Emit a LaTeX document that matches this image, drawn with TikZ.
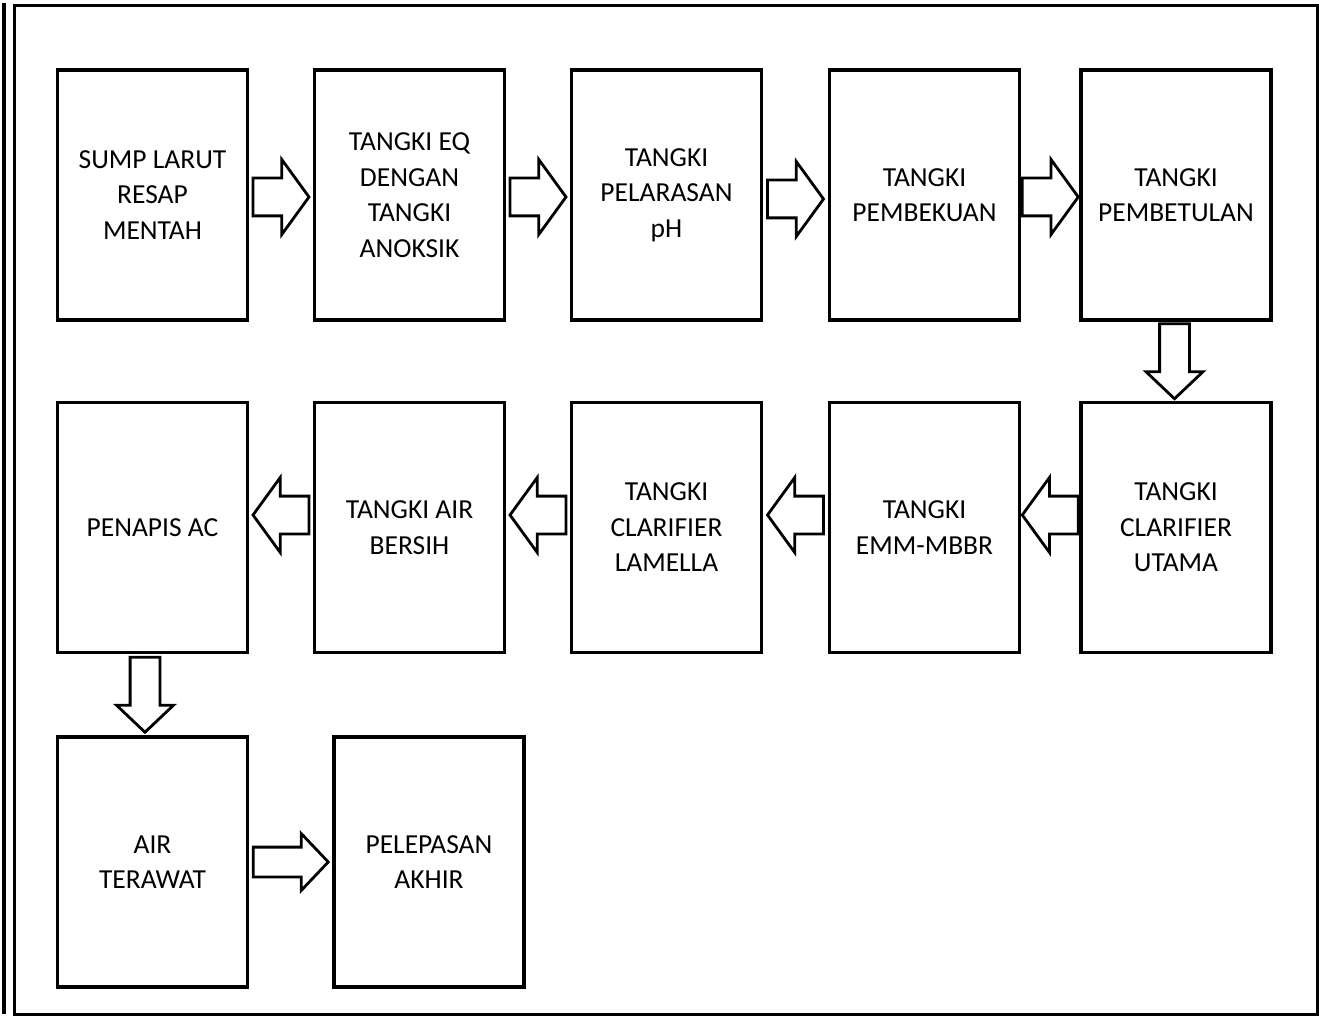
\documentclass[tikz,border=0pt]{standalone}
\usepackage{fontspec}
\setmainfont{Carlito}
\usetikzlibrary{shapes.arrows, positioning, calc}

\begin{document}
\begin{tikzpicture}[x=1pt, y=-1pt]
	\tikzstyle{tank} = [
	draw,
	rectangle,
	line width=3.5pt,
	outer sep=0pt,
	minimum width=190pt,
	minimum height=250pt,
	align=center,
	font=\fontsize{27.5}{35.5}\selectfont
	]
	\tikzstyle{flow} = [draw, single arrow, anchor=tail, line width=2.8pt, outer sep=0pt,
	inner xsep=0pt, inner ysep=17.5pt, single arrow head extend=18.5pt,
	single arrow tip angle=108, minimum height=56pt]
	\tikzstyle{longflow} = [flow, inner ysep=13.5pt, single arrow head extend=13.5pt,
	single arrow tip angle=93, minimum height=75pt]
	
	\useasboundingbox (0,0) rectangle (1319,1016);
	\draw[line width=4pt] (4,3) -- (4,1014);
	\draw[line width=3pt] (14.5,5.5) rectangle (1317,1014.5);
	
	% baris atas
	\node[tank] (sump) at (152.5,195) {SUMP LARUT\\RESAP\\MENTAH};
	\node[tank, right=67pt of sump] (eq) {TANGKI EQ\\DENGAN\\TANGKI\\ANOKSIK};
	\node[tank, right=67pt of eq] (ph) {TANGKI\\PELARASAN\\pH};
	\node[tank, right=68pt of ph] (beku) {TANGKI\\PEMBEKUAN};
	\node[tank, right=61.5pt of beku] (betul) {TANGKI\\PEMBETULAN};
	
	% baris tengah
	\node[tank, below=82.5pt of betul] (utama) {TANGKI\\CLARIFIER\\UTAMA};
	\node[tank, left=61.5pt of utama] (mbbr) {TANGKI\\EMM-MBBR};
	\node[tank, left=68pt of mbbr] (lamella) {TANGKI\\CLARIFIER\\LAMELLA};
	\node[tank, left=67pt of lamella] (bersih) {TANGKI AIR\\BERSIH};
	\node[tank, left=67pt of bersih] (penapis) {PENAPIS AC};
	
	% baris bawah
	\node[tank, below=84.5pt of penapis] (terawat) {AIR\\TERAWAT};
	\node[tank, right=86.5pt of terawat] (akhir) {PELEPASAN\\AKHIR};
	
	% anak panah aliran
	\node[flow] (f1) at ($(sump.east)!0.5!(eq.west)+(-28,2)$) {};
	\node[flow] (f2) at ($(eq.east)!0.5!(ph.west)+(-28,2)$) {};
	\node[flow] (f3) at ($(ph.east)!0.5!(beku.west)+(-28,4)$) {};
	\node[flow] (f4) at ($(beku.east)!0.5!(betul.west)+(-28,2)$) {};
	\node[longflow, rotate=-90] (f5) at ($(betul.south)!0.5!(utama.north)+(-1.5,-37.5)$) {};
	\node[flow, rotate=180] (f6) at ($(utama.west)!0.5!(mbbr.east)+(28,-12.5)$) {};
	\node[flow, rotate=180] (f7) at ($(mbbr.west)!0.5!(lamella.east)+(28,-12.5)$) {};
	\node[flow, rotate=180] (f8) at ($(lamella.west)!0.5!(bersih.east)+(28,-12.5)$) {};
	\node[flow, rotate=180] (f9) at ($(bersih.west)!0.5!(penapis.east)+(28,-12.5)$) {};
	\node[longflow, rotate=-90] (f10) at ($(penapis.south)!0.5!(terawat.north)+(-7.5,-37.5)$) {};
	\node[longflow] (f11) at ($(terawat.east)!0.5!(akhir.west)+(-37.5,0)$) {};
\end{tikzpicture}
\end{document}
